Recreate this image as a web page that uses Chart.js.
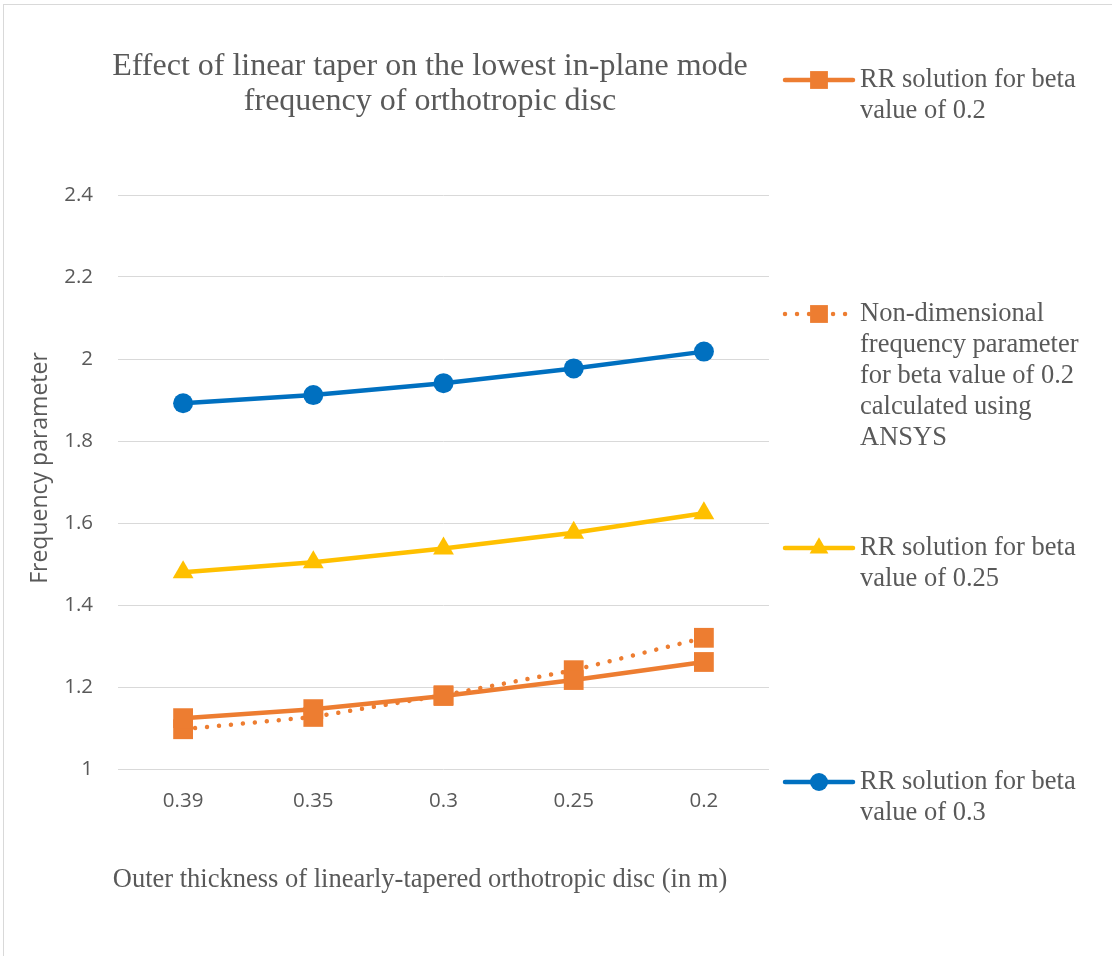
<!DOCTYPE html>
<html>
<head>
<meta charset="utf-8">
<script src="https://cdn.jsdelivr.net/npm/chart.js@4.4.1/dist/chart.umd.min.js"></script>
<style>
  html, body { margin: 0; padding: 0; background: #fff; }
</style>
</head>
<body>
<canvas id="chart" width="1112" height="956"></canvas>
<script>
// values
const categories = ['0.39', '0.35', '0.3', '0.25', '0.2'];
const rrBeta02 = [1.124, 1.146, 1.178, 1.217, 1.261];
const ansysBeta02 = [1.097, 1.127, 1.180, 1.241, 1.320];
const rrBeta025 = [1.480, 1.504, 1.538, 1.576, 1.624];
const rrBeta03 = [1.892, 1.912, 1.941, 1.977, 2.018];

const seriesLabels = [
  'RR solution for beta value of 0.2',
  'Non-dimensional frequency parameter for beta value of 0.2 calculated using ANSYS',
  'RR solution for beta value of 0.25',
  'RR solution for beta value of 0.3'
];
const titleLines = ['Effect of linear taper on the lowest in-plane mode', 'frequency of orthotropic disc'];
const xTitle = 'Outer thickness of linearly-tapered orthotropic disc (in m)';
const yTitle = 'Frequency parameter';

const ORANGE = '#ED7D31';
const YELLOW = '#FFC000';
const BLUE = '#0070C0';
const TEXT = '#595959';
const GRID = '#D9D9D9';
const SERIF = '"Liberation Serif", "Times New Roman", serif';
const SANS = '"Open Sans", "Noto Sans", sans-serif';

function wrap(ctx, text, maxW) {
  const words = text.split(' ');
  const lines = [];
  let cur = '';
  words.forEach(w => {
    const test = cur ? cur + ' ' + w : w;
    if (ctx.measureText(test).width > maxW && cur) {
      lines.push(cur);
      cur = w;
    } else {
      cur = test;
    }
  });
  if (cur) lines.push(cur);
  return lines;
}

// titles, frame and the right-hand legend
const decor = {
  id: 'decor',
  afterDraw(chart) {
    const ctx = chart.ctx;
    ctx.save();

    // outer frame (only left/top edges fall inside the window)
    ctx.strokeStyle = GRID;
    ctx.lineWidth = 1;
    ctx.strokeRect(3.5, 4.5, 1300, 1300);

    ctx.fillStyle = TEXT;
    ctx.textAlign = 'center';
    ctx.textBaseline = 'middle';

    ctx.font = '32px ' + SERIF;
    titleLines.forEach((t, i) => ctx.fillText(t, 430, 67 + i * 35));

    ctx.font = '26.5px ' + SERIF;
    ctx.fillText(xTitle, 420, 880);

    ctx.save();
    ctx.translate(40, 468);
    ctx.rotate(-Math.PI / 2);
    ctx.font = '23px ' + SANS;
    ctx.fillText(yTitle, 0, 0);
    ctx.restore();

    // legend
    ctx.font = '26.5px ' + SERIF;
    ctx.textAlign = 'left';
    chart.data.datasets.forEach((ds, i) => {
      const y = 80 + i * 234;
      ctx.save();
      ctx.strokeStyle = ds.borderColor;
      ctx.lineWidth = ds.borderWidth;
      ctx.lineCap = 'round';
      ctx.setLineDash(ds.borderDash || []);
      ctx.beginPath();
      ctx.moveTo(785, y);
      ctx.lineTo(853, y);
      ctx.stroke();
      ctx.restore();
      ctx.fillStyle = ds.backgroundColor;
      Chart.helpers.drawPoint(ctx, {
        pointStyle: ds.pointStyle,
        radius: ds.pointRadius * 0.9,
        rotation: 0,
        borderWidth: 0
      }, 819, y);
      ctx.fillStyle = TEXT;
      wrap(ctx, ds.label, 228).forEach((line, k) => {
        ctx.fillText(line, 860, y + k * 31);
      });
    });
    ctx.restore();
  }
};

function series(label, data, color, style, radius, dash) {
  return {
    label: label,
    data: data,
    borderColor: color,
    backgroundColor: color,
    borderWidth: 4.5,
    borderDash: dash,
    borderCapStyle: 'round',
    pointStyle: style,
    pointRadius: radius,
    pointBorderWidth: 0,
    pointHoverRadius: radius,
    tension: 0
  };
}

new Chart(document.getElementById('chart'), {
  type: 'line',
  data: {
    labels: categories,
    datasets: [
      series(seriesLabels[0], rrBeta02, ORANGE, 'rect', 14, []),
      series(seriesLabels[1], ansysBeta02, ORANGE, 'rect', 14, [0.01, 12]),
      series(seriesLabels[2], rrBeta025, YELLOW, 'triangle', 12, []),
      series(seriesLabels[3], rrBeta03, BLUE, 'circle', 10, [])
    ]
  },
  options: {
    responsive: false,
    animation: false,
    devicePixelRatio: 1,
    layout: { padding: { left: 0, top: 195, right: 343, bottom: 0 } },
    plugins: {
      legend: { display: false },
      title: { display: false },
      tooltip: { enabled: false }
    },
    scales: {
      x: {
        type: 'category',
        offset: true,
        afterFit: s => { s.height = 187; },
        grid: { display: false, drawTicks: false },
        border: { display: false },
        ticks: { color: TEXT, font: { family: SANS, size: 20.5 }, padding: 20 }
      },
      y: {
        min: 1,
        max: 2.4,
        afterFit: s => { s.width = 118; },
        grid: { color: GRID, lineWidth: 1, drawTicks: false },
        border: { display: false },
        ticks: {
          stepSize: 0.2,
          color: TEXT,
          font: { family: SANS, size: 20.5 },
          padding: 25,
          callback: v => String(+v.toFixed(1))
        }
      }
    }
  },
  plugins: [decor]
});
</script>
</body>
</html>
